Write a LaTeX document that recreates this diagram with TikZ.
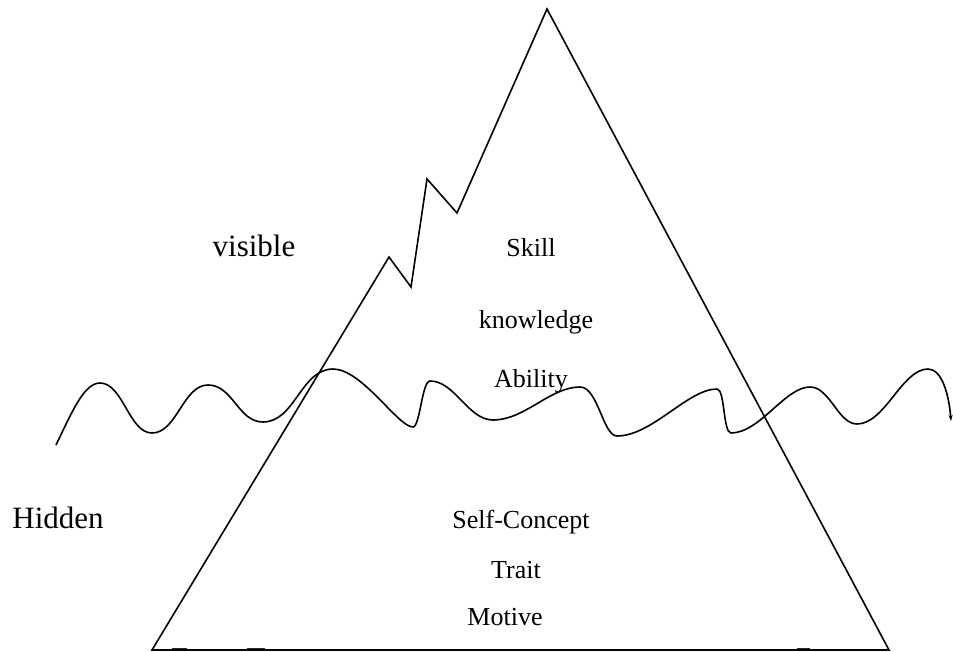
\documentclass[tikz,border=0pt]{standalone}
\usepackage{fontspec}
\setmainfont{Liberation Serif}
\usetikzlibrary{arrows.meta}
\begin{document}
\begin{tikzpicture}[x=1pt,y=-1pt,line width=1.6pt,
  biglabel/.style={font=\fontsize{31}{36}\selectfont,anchor=base,inner sep=0pt},
  smalllabel/.style={font=\fontsize{26}{30}\selectfont,anchor=base,inner sep=0pt},
  basemark/.style={line width=2.4pt,black!85}]
\useasboundingbox (0,0) rectangle (953,652);

% small marks on the base line
\draw[basemark] (172,649.5) -- (187,649.5);
\draw[basemark] (247,649.5) -- (265,649.5);
\draw[basemark] (797,649.5) -- (810,649.5);

% mountain outline
\coordinate (apex) at (547,9);
\coordinate (bl) at (152,650);
\coordinate (br) at (889,650);
\coordinate (p1) at (389,257);
\coordinate (p2) at (411,287);
\coordinate (p3) at (427,179);
\coordinate (p4) at (457,213);
\draw[line join=miter] (bl) -- (p1) -- (p2) -- (p3) -- (p4) -- (apex) -- (br) -- cycle;

% water line
\coordinate (w0) at (56,445);
\coordinate (w1) at (100,383);
\coordinate (w2) at (152,433);
\coordinate (w3) at (208,385);
\coordinate (w4) at (263,422);
\coordinate (w5) at (333,369);
\coordinate (w6) at (413,427);
\coordinate (w7) at (430,381);
\coordinate (w8) at (493,420);
\coordinate (w9) at (580,387);
\coordinate (w10) at (617,436);
\coordinate (w11) at (717,389);
\coordinate (w12) at (731,433);
\coordinate (w13) at (810,387);
\coordinate (w14) at (857,424);
\coordinate (w15) at (928,369);
\coordinate (wend) at (951,421);
\draw[-{Stealth[length=6pt,width=4pt]}]
  (w0) .. controls (72,412) and (84,383) .. (w1)
       .. controls (123,383) and (129,433) .. (w2)
       .. controls (177,433) and (183,385) .. (w3)
       .. controls (233,385) and (238,422) .. (w4)
       .. controls (295,422) and (301,369) .. (w5)
       .. controls (362,369) and (398,427) .. (w6)
       .. controls (420,427) and (422,381) .. (w7)
       .. controls (455,381) and (468,420) .. (w8)
       .. controls (525,420) and (550,387) .. (w9)
       .. controls (598,387) and (603,436) .. (w10)
       .. controls (652,436) and (688,389) .. (w11)
       .. controls (725,389) and (723,433) .. (w12)
       .. controls (760,433) and (785,387) .. (w13)
       .. controls (830,387) and (838,424) .. (w14)
       .. controls (885,424) and (902,369) .. (w15)
       .. controls (942,369) and (949,395) .. (wend);

% labels
\node[biglabel] (visible) at (254,257) {visible};
\node[biglabel] (hidden) at (58,528) {Hidden};
\node[smalllabel] (skill) at (531,257) {Skill};
\node[smalllabel] (knowledge) at (536,328) {knowledge};
\node[smalllabel] (ability) at (531,387) {Ability};
\node[smalllabel] (selfconcept) at (521,528) {Self-Concept};
\node[smalllabel] (trait) at (516,578) {Trait};
\node[smalllabel] (motive) at (505,625) {Motive};
\end{tikzpicture}
\end{document}
